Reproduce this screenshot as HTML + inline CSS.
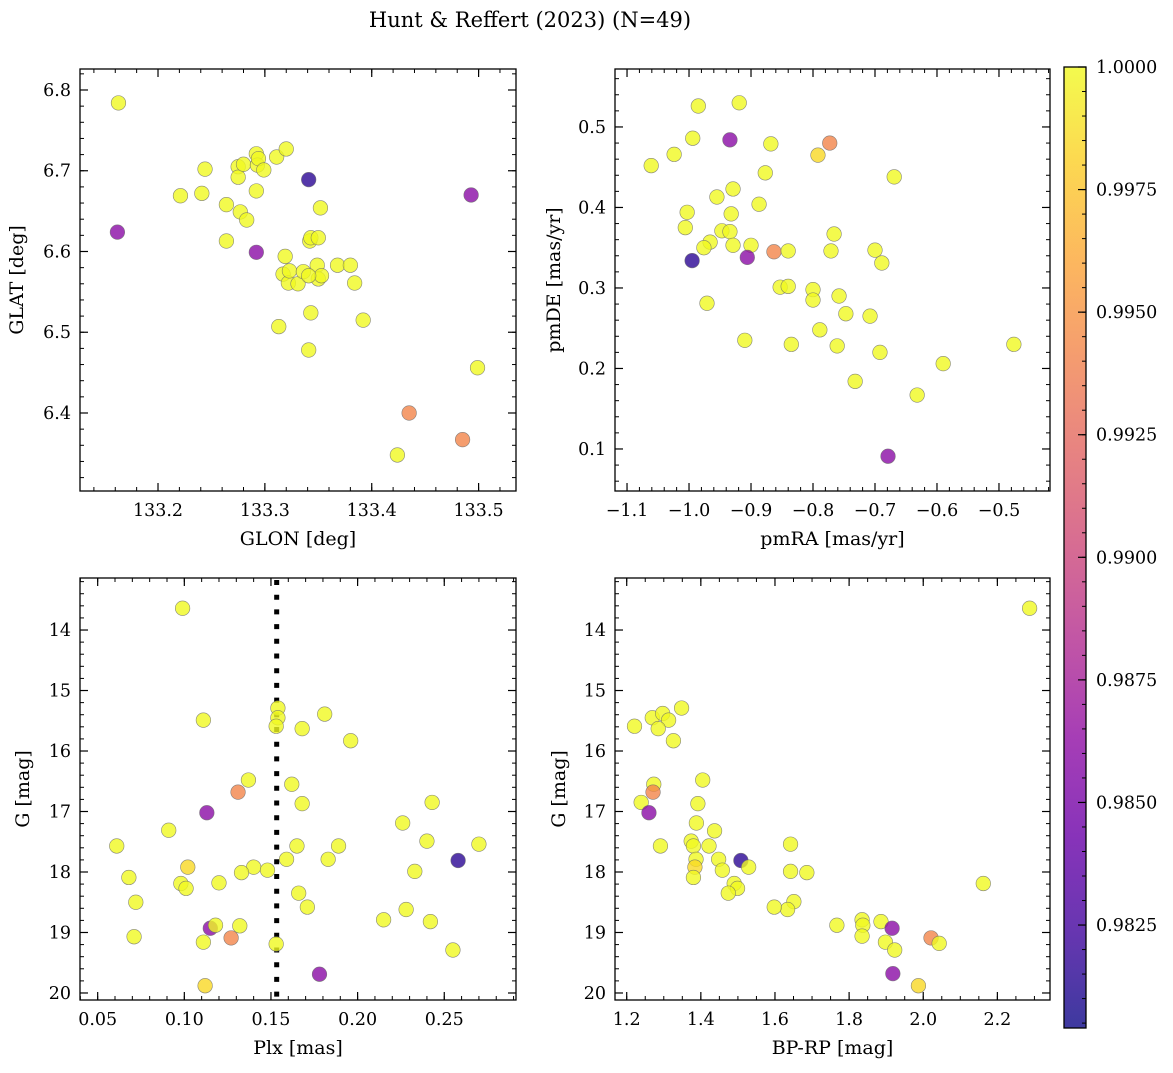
<!DOCTYPE html>
<html><head><meta charset="utf-8"><title>Hunt & Reffert (2023)</title>
<style>
html,body{margin:0;padding:0;background:#fff;}
svg text{font-family:"DejaVu Serif","Liberation Serif",serif;fill:#000;}
</style></head>
<body>
<svg id="fig" width="1173" height="1068" viewBox="0 0 1173 1068" xmlns="http://www.w3.org/2000/svg">
<text x="530" y="27" font-size="21" text-anchor="middle">Hunt &amp; Reffert (2023) (N=49)</text>
</svg>
<script>
// ---- data ----
const glon=[133.163,133.162,133.221,133.241,133.244,133.264,133.264,133.275,133.275,133.277,133.280,133.283,133.292,133.292,133.293,133.294,133.299,133.292,133.311,133.320,133.319,133.317,133.322,133.323,133.331,133.336,133.313,133.342,133.343,133.350,133.349,133.350,133.353,133.341,133.343,133.341,133.352,133.368,133.380,133.384,133.392,133.341,133.493,133.499,133.435,133.485,133.424];
const glat=[6.784,6.624,6.669,6.672,6.702,6.613,6.658,6.705,6.692,6.649,6.708,6.639,6.721,6.675,6.707,6.715,6.701,6.599,6.717,6.727,6.594,6.572,6.561,6.576,6.560,6.575,6.507,6.613,6.617,6.617,6.583,6.566,6.570,6.570,6.524,6.478,6.654,6.583,6.583,6.561,6.515,6.689,6.670,6.456,6.400,6.367,6.348];
const probA=[1,0.986,1,1,1,1,1,1,1,1,1,1,1,1,1,1,1,0.986,1,1,1,1,1,1,1,1,1,1,1,1,1,1,1,1,1,1,1,1,1,1,1,0.9815,0.986,1,0.9942,0.9942,1];

const pmra=[-0.985,-0.919,-0.994,-0.934,-0.868,-0.773,-0.792,-1.024,-1.061,-0.877,-0.669,-0.929,-0.955,-0.887,-1.003,-0.932,-1.006,-0.947,-0.934,-0.966,-0.976,-0.929,-0.900,-0.995,-0.906,-0.863,-0.840,-0.766,-0.771,-0.700,-0.689,-0.853,-0.840,-0.800,-0.800,-0.758,-0.971,-0.747,-0.708,-0.789,-0.910,-0.835,-0.761,-0.692,-0.590,-0.476,-0.732,-0.632,-0.679];
const pmde=[0.526,0.530,0.486,0.484,0.479,0.480,0.465,0.466,0.452,0.443,0.438,0.423,0.413,0.404,0.394,0.392,0.375,0.371,0.370,0.357,0.350,0.353,0.353,0.334,0.338,0.345,0.346,0.367,0.346,0.347,0.331,0.301,0.302,0.298,0.285,0.290,0.281,0.268,0.265,0.248,0.235,0.230,0.228,0.220,0.206,0.230,0.184,0.167,0.091];
const probB=[1,1,1,0.986,1,0.9942,0.9985,1,1,1,1,1,1,1,1,1,1,1,1,1,1,1,1,0.9815,0.986,0.9942,1,1,1,1,1,1,1,1,1,1,1,1,1,1,1,1,1,1,1,1,1,1,0.986];

const plx=[0.099,0.111,0.154,0.154,0.153,0.168,0.181,0.196,0.137,0.131,0.162,0.168,0.113,0.243,0.091,0.226,0.061,0.165,0.189,0.240,0.270,0.258,0.159,0.183,0.102,0.140,0.148,0.133,0.233,0.068,0.098,0.101,0.120,0.166,0.171,0.072,0.215,0.228,0.242,0.115,0.118,0.132,0.127,0.071,0.111,0.153,0.255,0.178,0.112];
const gC=[13.64,15.49,15.29,15.45,15.59,15.63,15.39,15.83,16.48,16.68,16.55,16.87,17.02,16.85,17.31,17.19,17.57,17.57,17.57,17.49,17.54,17.81,17.79,17.79,17.92,17.92,17.97,18.01,17.99,18.09,18.19,18.27,18.18,18.35,18.58,18.50,18.79,18.62,18.82,18.93,18.88,18.89,19.09,19.07,19.16,19.19,19.29,19.69,19.88];
const probC=[1,1,1,1,1,1,1,1,1,0.9942,1,1,0.986,1,1,1,1,1,1,1,1,0.9815,1,1,0.9985,1,1,1,1,1,1,1,1,1,1,1,1,1,1,0.986,1,1,0.9942,1,1,1,1,0.986,0.9985];
const plxCut=0.1533;

const bprp=[2.287,1.348,1.221,1.269,1.297,1.313,1.285,1.326,1.405,1.273,1.271,1.239,1.392,1.260,1.388,1.437,1.291,1.374,1.380,1.422,1.642,1.387,1.448,1.508,1.529,1.384,1.458,1.642,1.686,1.380,1.490,1.499,1.474,2.162,1.651,1.634,1.598,1.767,1.835,1.837,1.835,1.886,1.916,1.898,1.923,2.021,2.043,1.918,1.987];
const gD=[13.64,15.29,15.59,15.45,15.38,15.49,15.63,15.83,16.48,16.55,16.68,16.85,16.87,17.02,17.19,17.32,17.57,17.49,17.57,17.57,17.54,17.79,17.79,17.81,17.92,17.92,17.97,17.99,18.01,18.09,18.19,18.27,18.35,18.19,18.49,18.62,18.58,18.88,18.79,18.88,19.06,18.82,18.93,19.16,19.29,19.09,19.18,19.68,19.88];
const probD=[1,1,1,1,1,1,1,1,1,1,0.9942,1,1,0.986,1,1,1,1,1,1,1,1,1,0.9815,1,0.9985,1,1,1,1,1,1,1,1,1,1,1,1,1,1,1,1,0.986,1,1,0.9942,1,0.986,0.9985];

const cbTicks=[0.9825,0.9850,0.9875,0.9900,0.9925,0.9950,0.9975,1.0000];
const vmin=0.98040, vmax=1.0;

// ---- helpers ----
const NS="http://www.w3.org/2000/svg";
const fig=document.getElementById('fig');
function mk(tag,attrs,parent){const e=document.createElementNS(NS,tag);for(const k in attrs)e.setAttribute(k,attrs[k]);(parent||fig).appendChild(e);return e;}
const stops=[[13,8,135],[65,4,157],[106,0,168],[143,13,164],[177,42,144],[204,71,120],[225,100,98],[242,132,75],[252,166,54],[252,206,37],[240,249,33]];
function plasma(t){t=Math.max(0,Math.min(1,t));const f=t*10,i=Math.min(9,Math.floor(f)),r=f-i;const a=stops[i],b=stops[i+1];
 const c=a.map((v,k)=>Math.round(v+(b[k]-v)*r));return `rgb(${c[0]},${c[1]},${c[2]})`;}
function colorOf(p){return plasma((p-vmin)/(vmax-vmin));}
const TFS=17.5, LFS=19;

function panel(cfg){
 const {name,L,T,R,B,xmin,xmax,ymin,ymax,invertY,xMaj,xMin,yMaj,yMin,xDec,yDec,xlabel,ylabel,ylabX}=cfg;
 const g=mk('g',{});
 
 
 const sx=v=>L+(v-xmin)/(xmax-xmin)*(R-L);
 const sy=v=>invertY? T+(v-ymin)/(ymax-ymin)*(B-T) : B-(v-ymin)/(ymax-ymin)*(B-T);
 const eps=1e-9;
 function ticks(step,lo,hi){const a=[];for(let v=Math.ceil(lo/step-eps)*step;v<=hi+eps;v+=step)a.push(+v.toFixed(6));return a;}
 const tg=mk('g',{},g);
 
 
 ticks(xMin,xmin,xmax).forEach(v=>{const x=sx(v);mk('line',{x1:x,x2:x,y1:B,y2:B-4,stroke:'#000','stroke-width':1},tg);mk('line',{x1:x,x2:x,y1:T,y2:T+4,stroke:'#000','stroke-width':1},tg);});
 ticks(yMin,ymin,ymax).forEach(v=>{const y=sy(v);mk('line',{x1:L,x2:L+4,y1:y,y2:y,stroke:'#000','stroke-width':1},tg);mk('line',{x1:R,x2:R-4,y1:y,y2:y,stroke:'#000','stroke-width':1},tg);});
 ticks(xMaj,xmin,xmax).forEach(v=>{const x=sx(v);mk('line',{x1:x,x2:x,y1:B,y2:B-8,stroke:'#000','stroke-width':1.2},tg);mk('line',{x1:x,x2:x,y1:T,y2:T+8,stroke:'#000','stroke-width':1.2},tg);
  const t=mk('text',{x:x,y:B+25,'font-size':TFS,'text-anchor':'middle'},tg);t.textContent=v.toFixed(xDec).replace('-','\u2212');
  
  });
 ticks(yMaj,ymin,ymax).forEach(v=>{const y=sy(v);mk('line',{x1:L,x2:L+8,y1:y,y2:y,stroke:'#000','stroke-width':1.2},tg);mk('line',{x1:R,x2:R-8,y1:y,y2:y,stroke:'#000','stroke-width':1.2},tg);
  const t=mk('text',{x:L-9,y:y+6,'font-size':TFS,'text-anchor':'end'},tg);t.textContent=v.toFixed(yDec);
  
  });
 const xl=mk('text',{x:(L+R)/2,y:B+54,'font-size':LFS,'text-anchor':'middle'},g);xl.textContent=xlabel;
 
 
 const yl=mk('text',{x:ylabX,y:(T+B)/2,'font-size':LFS,'text-anchor':'middle',transform:`rotate(-90 ${ylabX} ${(T+B)/2})`},g);yl.textContent=ylabel;
 
 
 const frame=mk('rect',{x:L,y:T,width:R-L,height:B-T,fill:'none',stroke:'#000','stroke-width':1.3},g);
 
 
 return {g,sx,sy};
}
function scatter(p,xs,ys,ps,name){
 xs.forEach((xv,i)=>{const c=mk('circle',{cx:p.sx(xv),cy:p.sy(ys[i]),r:7.3,fill:colorOf(ps[i]),'fill-opacity':0.8,stroke:'#6b6b6b','stroke-opacity':0.8,'stroke-width':0.6},p.g);
  
  });
}

const p1=panel({name:'glon-glat-panel',L:80,T:69,R:516,B:491,xmin:133.127,xmax:133.535,ymin:6.3034,ymax:6.826,invertY:false,xMaj:0.1,xMin:0.02,yMaj:0.1,yMin:0.02,xDec:1,yDec:1,xlabel:'GLON [deg]',ylabel:'GLAT [deg]',ylabX:23});
scatter(p1,glon,glat,probA,'glon-glat');
const p2=panel({name:'proper-motion-panel',L:615,T:69,R:1050,B:491,xmin:-1.1194,xmax:-0.4177,ymin:0.0478,ymax:0.572,invertY:false,xMaj:0.1,xMin:0.02,yMaj:0.1,yMin:0.02,xDec:1,yDec:1,xlabel:'pmRA [mas/yr]',ylabel:'pmDE [mas/yr]',ylabX:560});
scatter(p2,pmra,pmde,probB,'proper-motion');
const p3=panel({name:'plx-g-panel',L:80,T:578,R:516,B:1000,xmin:0.0398,xmax:0.2914,ymin:13.14,ymax:20.116,invertY:true,xMaj:0.05,xMin:0.01,yMaj:1,yMin:0.2,xDec:2,yDec:0,xlabel:'Plx [mas]',ylabel:'G [mag]',ylabX:29});
const cutX=p3.sx(plxCut);
const cut=mk('line',{x1:cutX,x2:cutX,y1:580,y2:1000,stroke:'#000','stroke-width':5,'stroke-dasharray':'5 9.7'},p3.g);


scatter(p3,plx,gC,probC,'plx-g');
const p4=panel({name:'color-magnitude-panel',L:615,T:578,R:1050,B:1000,xmin:1.1684,xmax:2.342,ymin:13.14,ymax:20.116,invertY:true,xMaj:0.2,xMin:0.05,yMaj:1,yMin:0.2,xDec:1,yDec:0,xlabel:'BP-RP [mag]',ylabel:'G [mag]',ylabX:565});
scatter(p4,bprp,gD,probD,'color-magnitude');

// Colorbar
const cb=mk('g',{});


const cT=67,cB=1028,cL=1064,cR=1086;
const defs=mk('defs',{},cb);
const lg=mk('linearGradient',{id:'cbg',x1:0,y1:1,x2:0,y2:0},defs);
for(let i=0;i<=20;i++){mk('stop',{offset:(i/20),'stop-color':plasma(i/20),'stop-opacity':0.8},lg);}
const cbr=mk('rect',{x:cL,y:cT,width:cR-cL,height:cB-cT,fill:'url(#cbg)',stroke:'#000','stroke-width':1.3},cb);


const cy=v=>cB-(v-vmin)/(vmax-vmin)*(cB-cT);
for(let v=0.9805;v<=1.00001;v+=0.0005){const y=cy(v);mk('line',{x1:cR,x2:cR-4,y1:y,y2:y,stroke:'#000','stroke-width':1},cb);}
cbTicks.forEach(v=>{const y=cy(v);mk('line',{x1:cR,x2:cR-8,y1:y,y2:y,stroke:'#000','stroke-width':1.2},cb);
 const t=mk('text',{x:cR+10,y:y+6,'font-size':TFS},cb);t.textContent=v.toFixed(4);
 
 });
</script>
</body></html>
